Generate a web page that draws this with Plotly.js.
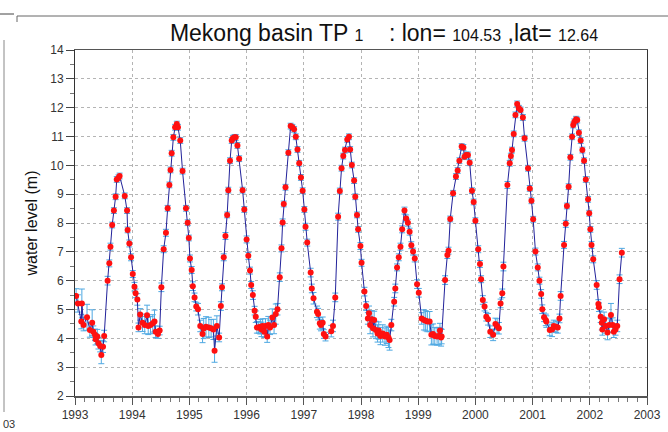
<!DOCTYPE html>
<html>
<head>
<meta charset="utf-8">
<script src="https://cdn.plot.ly/plotly-3.0.1.min.js"></script>
<style>html,body{margin:0;padding:0;background:#fff;}#chart{width:668px;height:432px;}</style>
</head>
<body>
<div id="chart"></div>
<script>
// decimal year of each altimetry pass
const years = [
1993.02,1993.05,1993.11,1993.12,1993.15,1993.21,1993.26,1993.30,1993.32,1993.35,1993.36,1993.39,1993.41,1993.44,1993.46,1993.49,1993.51,
1993.57,1993.60,1993.62,1993.65,1993.68,1993.71,1993.73,1993.76,1993.78,1993.87,1993.91,1993.92,1993.95,1993.98,
1994.01,1994.04,1994.06,1994.09,1994.11,1994.14,1994.18,1994.22,1994.26,1994.28,1994.32,1994.36,1994.39,1994.41,1994.45,1994.48,
1994.51,1994.55,1994.59,1994.62,1994.65,1994.67,1994.69,1994.72,1994.75,1994.78,1994.80,1994.84,1994.88,1994.94,1994.97,1994.99,
1995.01,1995.04,1995.06,1995.09,1995.12,1995.15,1995.19,1995.23,1995.25,1995.29,1995.34,1995.38,1995.42,1995.44,1995.48,1995.52,
1995.55,1995.57,1995.60,1995.63,1995.66,1995.68,1995.71,1995.74,1995.76,1995.79,1995.81,1995.84,1995.87,1995.93,1995.96,
1996.00,1996.03,1996.06,1996.08,1996.11,1996.14,1996.16,1996.18,1996.21,1996.24,1996.26,1996.28,1996.31,1996.33,1996.36,1996.38,1996.41,1996.45,1996.48,1996.51,1996.54,
1996.58,1996.61,1996.63,1996.65,1996.68,1996.73,1996.77,1996.80,1996.83,1996.86,1996.89,1996.92,1996.95,1996.98,
1997.01,1997.03,1997.06,1997.12,1997.14,1997.17,1997.23,1997.25,1997.28,1997.30,1997.33,1997.35,1997.38,1997.48,1997.51,
1997.55,1997.60,1997.63,1997.66,1997.69,1997.72,1997.76,1997.79,1997.81,1997.84,1997.88,1997.90,1997.93,1997.95,1997.99,
1998.01,1998.06,1998.09,1998.12,1998.14,1998.16,1998.19,1998.21,1998.23,1998.26,1998.29,1998.31,1998.34,1998.38,1998.42,1998.45,1998.48,1998.50,1998.53,
1998.58,1998.60,1998.63,1998.66,1998.69,1998.72,1998.76,1998.79,1998.82,1998.85,1998.88,1998.91,1998.94,1998.98,
1999.01,1999.06,1999.10,1999.13,1999.16,1999.20,1999.23,1999.26,1999.29,1999.33,1999.36,1999.38,1999.40,1999.41,
1999.47,1999.51,1999.53,1999.56,1999.61,1999.66,1999.69,1999.72,1999.76,1999.79,1999.81,1999.84,1999.87,1999.90,1999.94,1999.97,
2000.00,2000.05,2000.08,2000.10,2000.13,2000.16,2000.19,2000.22,2000.26,2000.31,2000.35,2000.38,2000.41,2000.44,2000.47,2000.49,
2000.56,2000.60,2000.62,2000.64,2000.67,2000.70,2000.73,2000.76,2000.79,2000.83,2000.86,2000.92,2000.95,2000.98,
2001.01,2001.05,2001.09,2001.12,2001.15,2001.17,2001.20,2001.23,2001.24,2001.30,2001.34,2001.37,2001.41,2001.44,2001.47,2001.49,
2001.55,2001.58,2001.60,2001.63,2001.66,2001.69,2001.71,2001.73,2001.76,2001.78,2001.81,2001.84,2001.87,2001.90,2001.93,2001.97,2001.99,
2002.01,2002.03,2002.06,2002.12,2002.15,2002.16,2002.19,2002.21,2002.22,2002.25,2002.28,2002.31,2002.34,2002.37,2002.40,2002.42,2002.45,2002.48,2002.52,2002.56
];
// water level (m)
const level = [
5.47,5.21,4.58,5.21,4.46,4.73,4.29,4.54,4.23,4.12,3.97,4.06,3.83,3.73,3.42,3.71,4.08,
6.00,6.60,7.18,7.93,8.43,8.91,9.51,9.57,9.63,8.94,8.43,7.76,7.29,6.81,
6.23,5.79,5.56,5.35,4.38,4.83,4.54,4.46,4.80,4.43,4.46,4.52,4.58,4.23,4.15,4.27,
5.77,7.09,7.66,8.51,9.32,9.84,10.42,10.97,11.32,11.43,11.32,10.86,9.80,8.51,8.01,7.48,
6.77,6.37,5.81,5.42,5.10,5.01,4.43,4.15,4.34,4.40,4.38,4.35,4.31,3.57,4.43,4.03,
5.12,5.77,6.81,7.55,8.28,9.14,10.16,10.86,10.94,10.97,10.97,10.69,10.23,9.14,8.47,
7.43,6.86,6.35,5.85,5.50,4.96,4.75,4.38,4.38,4.40,4.31,4.43,4.23,4.43,4.06,4.46,4.38,4.72,4.46,4.84,5.01,
6.12,7.12,8.02,8.66,9.24,10.44,11.36,11.32,11.25,10.99,10.55,10.07,9.58,9.12,
8.47,7.87,7.32,6.28,5.73,5.39,4.92,4.84,4.52,4.46,4.54,4.15,4.06,4.25,4.43,
5.42,8.22,9.11,9.90,10.32,10.53,10.90,10.99,10.55,10.01,9.47,8.91,8.28,7.78,7.20,
6.62,5.62,5.12,4.69,4.87,4.46,4.66,4.35,4.64,4.29,4.17,4.27,4.08,4.17,4.06,4.12,4.03,3.94,4.46,
5.27,5.73,6.46,6.81,7.18,7.78,8.43,8.16,8.01,7.70,7.23,7.01,6.77,5.88,
5.58,4.69,4.64,4.61,4.58,4.58,4.12,4.15,4.08,4.06,4.08,4.27,4.03,4.06,
6.02,6.89,7.04,8.14,9.03,9.61,9.82,10.16,10.65,10.62,10.30,10.36,10.36,10.09,9.12,8.73,
8.08,7.09,6.58,6.05,5.33,5.10,4.75,4.66,4.23,4.12,4.50,4.43,4.35,5.21,5.56,6.49,
9.32,10.07,10.32,10.53,11.09,11.75,12.13,11.98,11.92,11.66,10.94,9.90,9.20,8.77,
8.13,7.01,6.46,6.00,5.54,5.01,4.73,4.64,4.58,4.29,4.31,4.43,4.40,4.38,4.69,5.47,
7.24,7.97,8.59,9.26,10.28,10.99,11.40,11.51,11.60,11.57,11.13,10.86,10.53,10.16,9.51,8.82,8.34,
7.78,7.24,6.74,5.85,5.19,5.08,4.75,4.54,4.31,4.66,4.43,4.20,4.46,4.81,4.46,4.23,4.31,4.43,6.05,6.97
];
// error bar half-length (m)
const errorM = [
0.25,0.30,0.25,0.50,0.20,0.45,0.25,0.45,0.20,0.20,0.20,0.25,0.20,0.20,0.30,0.20,0.20,
0.15,0.12,0.12,0.10,0.10,0.10,0.10,0.10,0.10,0.10,0.10,0.10,0.12,0.12,
0.12,0.15,0.15,0.20,0.15,0.20,0.30,0.30,0.35,0.30,0.30,0.30,0.40,0.20,0.15,0.15,
0.15,0.12,0.12,0.10,0.10,0.10,0.10,0.10,0.10,0.10,0.10,0.10,0.10,0.10,0.10,0.10,
0.12,0.12,0.15,0.15,0.15,0.20,0.20,0.30,0.35,0.35,0.35,0.30,0.35,0.40,0.35,0.15,
0.15,0.12,0.12,0.12,0.10,0.10,0.10,0.10,0.10,0.10,0.10,0.10,0.10,0.10,0.10,
0.12,0.12,0.12,0.12,0.15,0.15,0.20,0.20,0.20,0.25,0.25,0.25,0.20,0.25,0.20,0.30,0.25,0.30,0.30,0.35,0.20,
0.15,0.12,0.12,0.10,0.10,0.10,0.10,0.10,0.10,0.10,0.10,0.10,0.10,0.10,
0.10,0.12,0.12,0.15,0.15,0.20,0.20,0.20,0.20,0.20,0.20,0.15,0.15,0.20,0.20,
0.15,0.12,0.10,0.10,0.10,0.10,0.10,0.10,0.10,0.10,0.10,0.10,0.10,0.10,0.12,
0.12,0.15,0.15,0.20,0.25,0.30,0.30,0.30,0.30,0.30,0.30,0.30,0.30,0.30,0.30,0.30,0.35,0.35,0.20,
0.15,0.15,0.12,0.12,0.12,0.12,0.12,0.12,0.12,0.12,0.12,0.12,0.12,0.15,
0.15,0.20,0.35,0.35,0.35,0.35,0.35,0.35,0.30,0.30,0.30,0.25,0.30,0.25,
0.15,0.12,0.12,0.10,0.10,0.10,0.10,0.10,0.10,0.10,0.10,0.10,0.10,0.10,0.10,0.10,
0.10,0.12,0.12,0.12,0.15,0.15,0.15,0.20,0.20,0.20,0.20,0.25,0.20,0.15,0.15,0.15,
0.12,0.10,0.10,0.10,0.10,0.10,0.10,0.10,0.10,0.10,0.10,0.10,0.10,0.10,
0.10,0.12,0.12,0.12,0.15,0.15,0.15,0.20,0.20,0.20,0.25,0.20,0.20,0.20,0.15,0.15,
0.12,0.12,0.10,0.10,0.10,0.10,0.10,0.10,0.10,0.10,0.10,0.10,0.10,0.10,0.10,0.10,0.10,
0.10,0.12,0.12,0.15,0.15,0.15,0.20,0.25,0.20,0.25,0.25,0.25,0.25,0.40,0.25,0.20,0.20,0.20,0.15,0.15
];
const yearTicks = [1993,1994,1995,1996,1997,1998,1999,2000,2001,2002,2003];
const levelTicks = [2,3,4,5,6,7,8,9,10,11,12,13,14];

const L = 75, R = 647, T = 50, B = 396;
const px = x => (x - L) / (R - L);
const py = y => (B - y) / (B - T);
const fnt = 'Liberation Sans, Arial, Helvetica, sans-serif';

const trace = {
  x: years, y: level, type: 'scatter', mode: 'lines+markers',
  line: {color: '#22229a', width: 1},
  marker: {color: '#ff1010', size: 6, line: {width: 0}},
  error_y: {type: 'data', array: errorM, visible: true, color: '#4ea8e2', thickness: 1, width: 3},
  hoverinfo: 'x+y'
};
const small = s => '<span style="font-size:16px">' + s + '</span>';
const layout = {
  width: 668, height: 432,
  margin: {l: L, r: 668 - R, t: T, b: 432 - B, pad: 0},
  paper_bgcolor: '#ffffff', plot_bgcolor: '#ffffff',
  showlegend: false,
  font: {family: fnt, color: '#333', size: 12},
  title: {
    text: 'Mekong basin TP ' + small('1') + '\u00a0\u00a0\u00a0 : lon= ' + small('104.53') + ' ,lat= ' + small('12.64'),
    font: {family: fnt, size: 23, color: '#111'},
    x: 384 / 668, xref: 'container', xanchor: 'center',
    y: 1 - 33 / 432, yref: 'container', yanchor: 'middle'
  },
  xaxis: {
    range: [1993, 2003], tickvals: yearTicks, ticktext: yearTicks.map(String),
    ticks: 'outside', ticklen: 7, tickcolor: '#555', tickwidth: 1,
    showline: true, linecolor: '#555', linewidth: 1.5, mirror: true,
    showgrid: true, gridcolor: '#b4b4b4', griddash: 'dot', gridwidth: 1,
    zeroline: false, tickfont: {size: 12, color: '#333'},
    minor: {dtick: 1/6, ticks: 'outside', ticklen: 4, tickcolor: '#777', showgrid: false}
  },
  yaxis: {
    range: [2, 14], tickvals: levelTicks, ticktext: levelTicks.map(String),
    ticks: 'outside', ticklen: 8, tickcolor: '#444', tickwidth: 1,
    showline: true, linecolor: '#333', linewidth: 1, mirror: true,
    showgrid: true, gridcolor: '#b4b4b4', griddash: 'dot', gridwidth: 1,
    zeroline: false, tickfont: {size: 12, color: '#333'},
    minor: {dtick: 0.5, ticks: 'outside', ticklen: 4, tickcolor: '#777', showgrid: false},
    title: {text: 'water level (m)', font: {size: 16, color: '#111'}, standoff: 8},
    automargin: false
  },
  shapes: [
    {type: 'line', xref: 'paper', yref: 'paper', x0: px(0), x1: px(14), y0: py(14), y1: py(14), line: {color: '#444', width: 1}},
    {type: 'line', xref: 'paper', yref: 'paper', x0: px(17), x1: px(668), y0: py(16), y1: py(16), line: {color: '#666', width: 1}},
    {type: 'line', xref: 'paper', yref: 'paper', x0: px(17), x1: px(17), y0: py(16), y1: py(22), line: {color: '#666', width: 1}},
    {type: 'line', xref: 'paper', yref: 'paper', x0: px(4), x1: px(4), y0: py(40), y1: py(412), line: {color: '#888', width: 1}}
  ],
  annotations: [
    {text: '03', xref: 'paper', yref: 'paper', x: px(1), y: py(424), xanchor: 'left', yanchor: 'middle', showarrow: false, font: {size: 11, color: '#333'}}
  ]
};
Plotly.newPlot('chart', [trace], layout, {displayModeBar: false, staticPlot: true});
</script>
</body>
</html>
